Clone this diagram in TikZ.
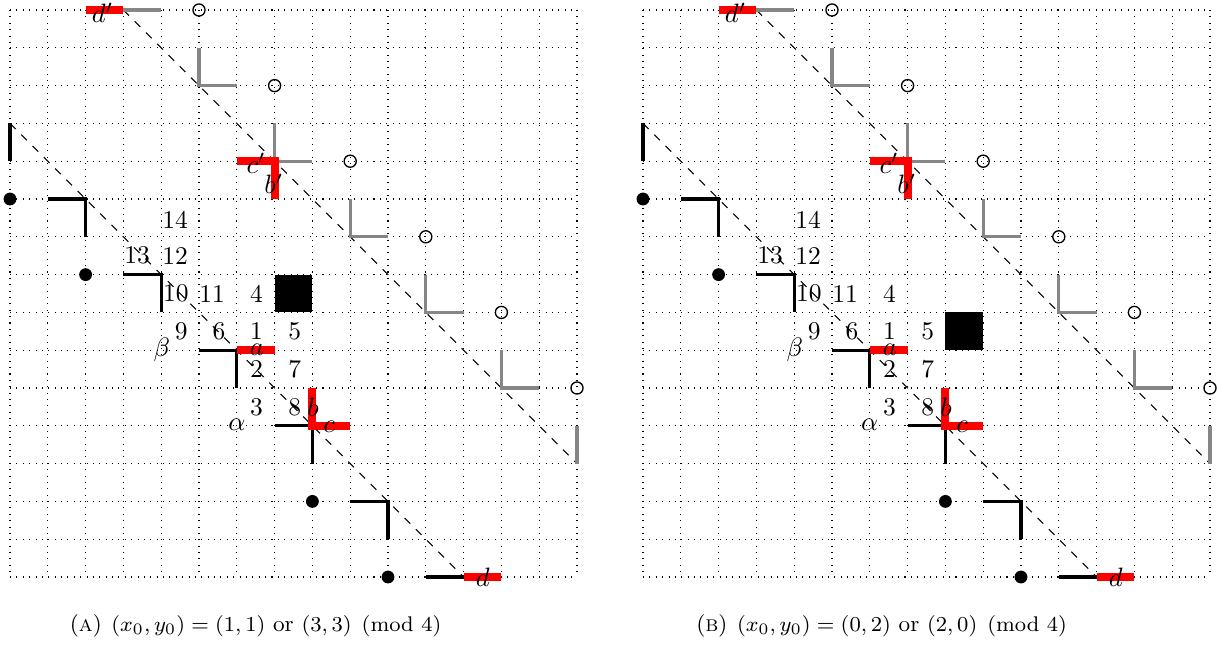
\documentclass[tikz,border=0pt]{standalone}
\usepackage{amsmath}
\tikzset{
  gridln/.style={dotted, line width=0.4pt},
  diagln/.style={dashed, line width=0.4pt},
  blk/.style={line width=1.2pt, black, line join=miter},
  gry/.style={line width=1.2pt, gray!95, line join=miter},
  redln/.style={line width=3pt, red, line join=miter},
  odot/.style={circle, draw, line width=0.5pt, inner sep=0pt, minimum size=0.16cm},
  fdot/.style={circle, fill, inner sep=0pt, minimum size=0.17cm},
  num/.style={inner sep=0pt, font=\fontsize{9.6}{11}\selectfont},
  lbl/.style={inner sep=0pt, font=\fontsize{10}{12}\selectfont},
  capt/.style={inner sep=0pt, font=\fontsize{8.5}{10}\selectfont},
}
\newcommand\mypanel[1]{%
  % grid
  \foreach \k in {0,...,15}{
    \draw[gridln] (\k,0) -- (\k,15);
    \draw[gridln] (0,\k) -- (15,\k);
  }
  % diagonals
  \coordinate (u0) at (3,0);  \coordinate (u1) at (15,12);
  \coordinate (l0) at (0,3);  \coordinate (l1) at (12,15);
  \draw[diagln] (u0) -- (u1);
  \draw[diagln] (l0) -- (l1);
  % black square
  \fill (#1,#1) rectangle ++(1,1);
  % gray pieces
  \draw[gry] (3,0) -- (4,0);
  \draw[gry] (5,1) -- (5,2) -- (6,2);
  \draw[gry] (7,3) -- (7,4) -- (8,4);
  \draw[gry] (9,5) -- (9,6) -- (10,6);
  \draw[gry] (11,7) -- (11,8) -- (12,8);
  \draw[gry] (13,9) -- (13,10) -- (14,10);
  \draw[gry] (15,11) -- (15,12);
  % open circles
  \node[odot] (o1) at (5,0) {};
  \node[odot] (o2) at (7,2) {};
  \node[odot] (o3) at (9,4) {};
  \node[odot] (o4) at (11,6) {};
  \node[odot] (o5) at (13,8) {};
  \node[odot] (o6) at (15,10) {};
  % black pieces
  \draw[blk] (0,3) -- (0,4);
  \draw[blk] (1,5) -- (2,5) -- (2,6);
  \draw[blk] (3,7) -- (4,7) -- (4,8);
  \draw[blk] (5,9) -- (6,9) -- (6,10);
  \draw[blk] (7,11) -- (8,11) -- (8,12);
  \draw[blk] (9,13) -- (10,13) -- (10,14);
  \draw[blk] (11,15) -- (12,15);
  % filled dots
  \node[fdot] (f1) at (0,5) {};
  \node[fdot] (f2) at (2,7) {};
  \node[fdot] (f3) at (8,13) {};
  \node[fdot] (f4) at (10,15) {};
  % red pieces
  \draw[redln] (2,0) -- (3,0);
  \draw[redln] (6,4) -- (7,4) -- (7,5);
  \draw[redln] (6,9) -- (7,9);
  \draw[redln] (8,10) -- (8,11) -- (9,11);
  \draw[redln] (12,15) -- (13,15);
  % numbers
  \node[num] (n14) at (4.37,5.55) {14};
  \node[num] (n13) at (3.36,6.5) {13};
  \node[num] (n12) at (4.37,6.5) {12};
  \node[num] (n10) at (4.39,7.5) {10};
  \node[num] (n11) at (5.35,7.5) {11};
  \node[num] (n4) at (6.52,7.5) {4};
  \node[num] (n9) at (4.53,8.5) {9};
  \node[num] (n6) at (5.53,8.5) {6};
  \node[num] (n1) at (6.52,8.5) {1};
  \node[num] (n5) at (7.53,8.5) {5};
  \node[num] (n2) at (6.52,9.5) {2};
  \node[num] (n7) at (7.53,9.5) {7};
  \node[num] (n3) at (6.52,10.5) {3};
  \node[num] (n8) at (7.53,10.5) {8};
  % letters
  \node[lbl] (la) at (6.53,9.0) {$a$};
  \node[lbl] (lb) at (8.02,10.5) {$b$};
  \node[lbl] (lc) at (8.44,11.03) {$c$};
  \node[lbl] (ld) at (12.51,15.0) {$d$};
  \node[lbl] (ldp) at (2.45,0.07) {$d'$};
  \node[lbl] (lcp) at (6.51,4.05) {$c'$};
  \node[lbl] (lbp) at (6.98,4.6) {$b'$};
  \node[lbl] (lal) at (6.0,10.98) {$\alpha$};
  \node[lbl] (lbe) at (4.02,9.0) {$\beta$};
}
\begin{document}
\begin{tikzpicture}[x=0.5cm, y=-0.5cm]
  \useasboundingbox (-0.2646,-0.2646) rectangle (31.958,16.852);
  \begin{scope}[name prefix=A-]
    \mypanel{7}
  \end{scope}
  \begin{scope}[xshift=8.373cm, name prefix=B-]
    \mypanel{8}
  \end{scope}
  \node[capt] (capA) at (6.5,16.3) {(\textsc{a})\hspace{3.6pt}$(x_0, y_0) = (1, 1)$ or $(3, 3) \pmod 4$};
  \node[capt] (capB) at (23.06,16.3) {(\textsc{b})\hspace{3.6pt}$(x_0, y_0) = (0, 2)$ or $(2, 0) \pmod 4$};
\end{tikzpicture}
\end{document}
